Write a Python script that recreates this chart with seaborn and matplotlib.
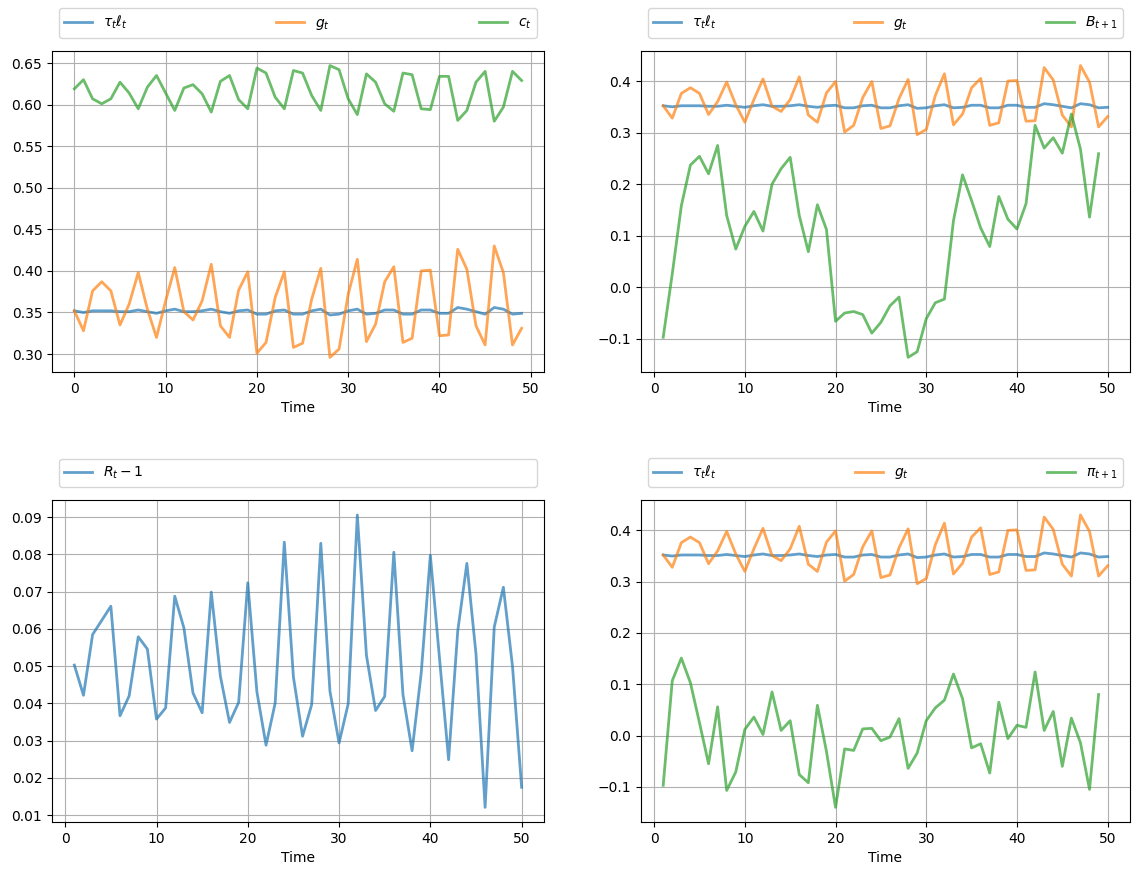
import numpy as np
import matplotlib
matplotlib.use("Agg")
import matplotlib.pyplot as plt
import seaborn as sns

# 그래프 데이터
tax_labor = [0.352, 0.350, 0.352, 0.352, 0.352, 0.351, 0.351, 0.353, 0.351, 0.349,
             0.352, 0.354, 0.351, 0.351, 0.352, 0.354, 0.351, 0.349, 0.352, 0.353,
             0.348, 0.348, 0.352, 0.353, 0.348, 0.348, 0.352, 0.354, 0.347, 0.348,
             0.352, 0.354, 0.348, 0.349, 0.353, 0.353, 0.348, 0.348, 0.353, 0.353,
             0.349, 0.349, 0.356, 0.354, 0.351, 0.348, 0.356, 0.354, 0.348, 0.349]

gov = [0.352, 0.328, 0.376, 0.387, 0.376, 0.335, 0.360, 0.398, 0.354, 0.320,
       0.364, 0.404, 0.351, 0.341, 0.364, 0.408, 0.334, 0.320, 0.377, 0.399,
       0.301, 0.314, 0.368, 0.399, 0.308, 0.313, 0.366, 0.403, 0.296, 0.306,
       0.372, 0.414, 0.315, 0.336, 0.387, 0.405, 0.314, 0.319, 0.400, 0.401,
       0.322, 0.323, 0.426, 0.402, 0.334, 0.311, 0.430, 0.398, 0.311, 0.331]

cons = [0.619, 0.630, 0.607, 0.601, 0.607, 0.627, 0.614, 0.595, 0.621, 0.635,
        0.614, 0.593, 0.620, 0.624, 0.613, 0.591, 0.628, 0.635, 0.606, 0.595,
        0.644, 0.638, 0.609, 0.595, 0.641, 0.638, 0.611, 0.593, 0.647, 0.642,
        0.607, 0.588, 0.637, 0.627, 0.601, 0.592, 0.638, 0.636, 0.595, 0.594,
        0.634, 0.634, 0.581, 0.593, 0.627, 0.640, 0.580, 0.597, 0.640, 0.629]

debt = [-0.097, 0.026, 0.158, 0.237, 0.254, 0.220, 0.275, 0.139, 0.074, 0.118,
        0.147, 0.109, 0.200, 0.230, 0.252, 0.139, 0.069, 0.160, 0.112, -0.066,
        -0.050, -0.047, -0.053, -0.089, -0.068, -0.036, -0.019, -0.136, -0.125, -0.061,
        -0.030, -0.023, 0.129, 0.218, 0.168, 0.115, 0.079, 0.176, 0.132, 0.113,
        0.162, 0.314, 0.270, 0.290, 0.260, 0.336, 0.268, 0.136, 0.259]

rate = [0.0503, 0.0422, 0.0585, 0.0623, 0.0661, 0.0367, 0.0420, 0.0579, 0.0546, 0.0358,
        0.0388, 0.0688, 0.0603, 0.0428, 0.0375, 0.0699, 0.0473, 0.0349, 0.0403, 0.0724,
        0.0431, 0.0288, 0.0401, 0.0833, 0.0471, 0.0312, 0.0397, 0.0830, 0.0433, 0.0294,
        0.0399, 0.0906, 0.0529, 0.0381, 0.0419, 0.0806, 0.0424, 0.0273, 0.0482, 0.0798,
        0.0522, 0.0249, 0.0594, 0.0776, 0.0533, 0.0121, 0.0605, 0.0712, 0.0500, 0.0175]

infl = [-0.097, 0.107, 0.151, 0.103, 0.025, -0.055, 0.056, -0.107, -0.071, 0.012,
        0.036, 0.002, 0.085, 0.010, 0.029, -0.076, -0.092, 0.059, -0.031, -0.140,
        -0.026, -0.029, 0.013, 0.014, -0.010, -0.003, 0.033, -0.064, -0.034, 0.029,
        0.054, 0.069, 0.120, 0.072, -0.024, -0.016, -0.073, 0.065, -0.006, 0.020,
        0.016, 0.124, 0.010, 0.047, -0.060, 0.034, -0.014, -0.105, 0.080]

fig, axes = plt.subplots(2, 2, figsize=(11.45, 8.74), dpi=100)

# 축 위치 (원본과 맞춤)
axes[0, 0].set_position([0.0454, 0.5744, 0.4297, 0.3673])
axes[0, 1].set_position([0.5598, 0.5744, 0.4270, 0.3673])
axes[1, 0].set_position([0.0454, 0.0595, 0.4297, 0.3680])
axes[1, 1].set_position([0.5598, 0.0595, 0.4270, 0.3680])

t0 = np.arange(len(gov))
t1 = np.arange(1, len(gov) + 1)
kw = dict(lw=2, alpha=0.7)

ax = axes[0, 0]
sns.lineplot(x=t0, y=tax_labor, ax=ax, color="C0", label=r"$\tau_t \ell_t$", **kw)
sns.lineplot(x=t0, y=gov, ax=ax, color="C1", label=r"$g_t$", **kw)
sns.lineplot(x=t0, y=cons, ax=ax, color="C2", label=r"$c_t$", **kw)

ax = axes[0, 1]
sns.lineplot(x=t1, y=tax_labor, ax=ax, color="C0", label=r"$\tau_t \ell_t$", **kw)
sns.lineplot(x=t1, y=gov, ax=ax, color="C1", label=r"$g_t$", **kw)
sns.lineplot(x=t1[:len(debt)], y=debt, ax=ax, color="C2", label=r"$B_{t+1}$", **kw)

ax = axes[1, 0]
sns.lineplot(x=t1, y=rate, ax=ax, color="C0", label=r"$R_t - 1$", **kw)

ax = axes[1, 1]
sns.lineplot(x=t1, y=tax_labor, ax=ax, color="C0", label=r"$\tau_t \ell_t$", **kw)
sns.lineplot(x=t1, y=gov, ax=ax, color="C1", label=r"$g_t$", **kw)
sns.lineplot(x=t1[:len(infl)], y=infl, ax=ax, color="C2", label=r"$\pi_{t+1}$", **kw)

for ax in axes.flatten():
    ax.grid(True)
    ax.set_xlabel("Time")
    ax.set_ylabel("")
    ax.legend(bbox_to_anchor=(0., 1.02, 1., .102), loc=3, ncol=3, mode="expand")

fig.savefig("out.png", dpi=100)
